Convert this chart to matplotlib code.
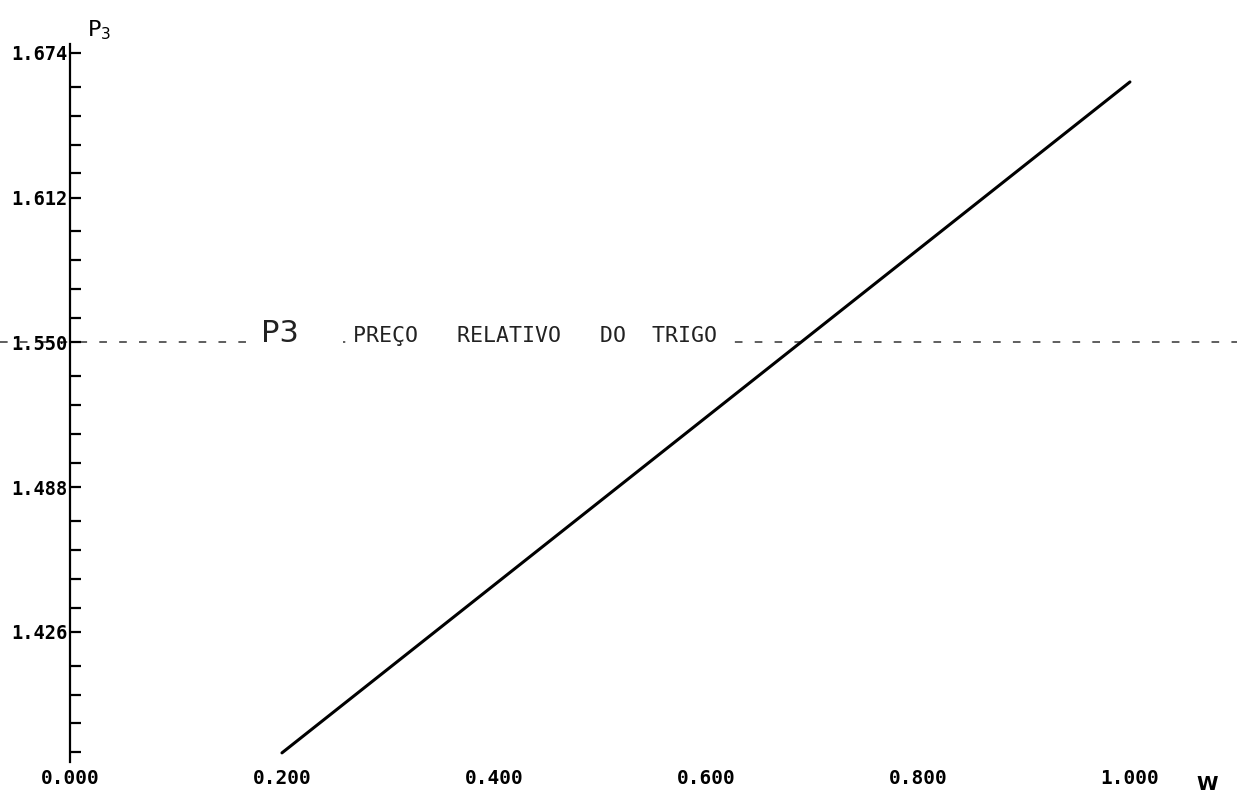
import numpy as np
import matplotlib.pyplot as plt
from matplotlib.ticker import FixedLocator

# dados: preço relativo do trigo (P3) em função de W
w = [0.2, 1.0]
p3 = [1.3742, 1.6616]

y_ticks = [1.426, 1.488, 1.550, 1.612, 1.674]
y_labels = ['1.426', '1.488', '1.550', '1.612', '1.674']
x_ticks = [0.0, 0.2, 0.4, 0.6, 0.8, 1.0]
x_labels = ['0.000', '0.200', '0.400', '0.600', '0.800', '1.000']
p3_ref = 1.550

fig = plt.figure(figsize=(12.37, 7.97), dpi=100)
ax = fig.add_axes([0, 0, 1, 1])
ax.set_xlim(-0.066, 1.101)
ax.set_ylim(1.3553, 1.6967)

# reta
ax.plot(w, p3, color='black', lw=2.2, solid_capstyle='round', zorder=3)

# linha de referência tracejada, interrompida pelo texto
ax.axhline(p3_ref, color='#333333', lw=1.1, dashes=(5, 8), zorder=1)
ax.text(0.18, p3_ref, 'P3    ', fontsize=22, family='DejaVu Sans', color='#222222',
        va='baseline', ha='left', zorder=2,
        bbox=dict(fc='white', ec='none', pad=4))
ax.text(0.267, p3_ref, 'PREÇO   RELATIVO   DO  TRIGO', fontsize=15.5,
        family='DejaVu Sans Mono', color='#222222', va='baseline', ha='left',
        zorder=2, bbox=dict(fc='white', ec='none', pad=4))

# eixo vertical
for s in ['top', 'right']:
    ax.spines[s].set_visible(False)
ax.spines['left'].set_position(('data', 0))
ax.spines['left'].set_bounds(1.3703, 1.678)
ax.spines['left'].set_linewidth(1.6)
ax.spines['bottom'].set_position(('axes', 0.035))
ax.spines['bottom'].set_color('none')

ax.yaxis.set_major_locator(FixedLocator(y_ticks))
ax.set_yticklabels(y_labels)
ax.yaxis.set_minor_locator(FixedLocator(
    [t for t in np.arange(1.3744, 1.678, 0.0124) if min(abs(t - y) for y in y_ticks) > 0.003]))
ax.tick_params(axis='y', which='both', direction='in', length=8, width=1.6, pad=2)
ax.tick_params(axis='y', which='major', labelsize=13.5)

ax.xaxis.set_major_locator(FixedLocator(x_ticks))
ax.set_xticklabels(x_labels)
ax.tick_params(axis='x', length=0, pad=0, labelsize=14)

for lab in ax.get_xticklabels() + ax.get_yticklabels():
    lab.set_family('DejaVu Sans Mono')
    lab.set_fontweight('bold')

ax.text(0.016, 1.6785, 'P$_3$', fontsize=16, va='bottom', ha='left')
ax.text(1.063, 1.3605, 'W', fontsize=14, fontweight='bold', va='center', ha='left')

fig.savefig('out.png', dpi=100)
